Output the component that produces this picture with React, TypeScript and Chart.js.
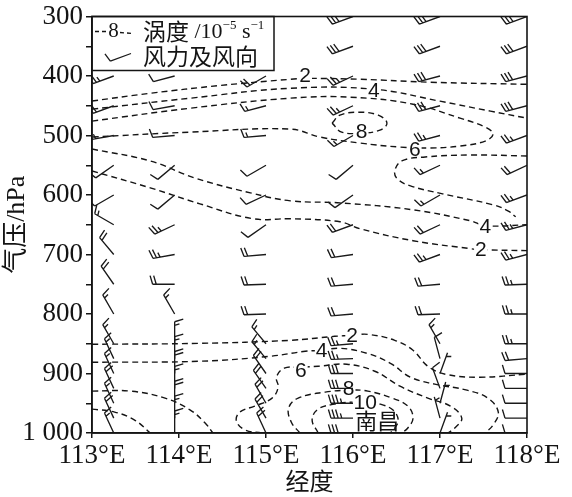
import React, { useEffect, useRef } from 'react';
import { Chart, registerables } from 'chart.js';

Chart.register(...registerables);

// ---------- axes ----------
const LON_TICKS = [113, 114, 115, 116, 117, 118];
const P_TICKS = [300, 400, 500, 600, 700, 800, 900, 1000];
const P_TICK_LABELS = ['300', '400', '500', '600', '700', '800', '900', '1 000'];

// ---------- wind barbs (direction wind comes from, deg; speed m/s) ----------
const LEVELS = [300, 350, 400, 450, 500, 550, 600, 650, 700, 750, 800, 850, 875, 900, 925, 950, 975, 1000];
const STATION_LONS = [113.25, 113.95, 115.0, 116.0, 117.0, 118.0];

const DIR_113 = [250, 250, 250, 250, 260, 235, 240, 300, 320, 325, 330, 330, 335, 335, 335, 335, 335, 335];
const SPD_113 = [10, 10, 10, 8, 6, 4, 4, 6, 8, 8, 6, 6, 6, 6, 8, 6, 8, 6];
const DIR_114 = [250, 250, 255, 260, 265, 230, 230, 245, 260, 270, 330, 0, 0, 0, 0, 0, 0, 0];
const SPD_114 = [10, 10, 4, 4, 4, 4, 4, 10, 10, 8, 6, 6, 6, 8, 6, 8, 6, 6];
const DIR_115 = [250, 250, 240, 255, 265, 240, 245, 235, 265, 268, 268, 320, 320, 325, 325, 330, 330, 335];
const SPD_115 = [10, 10, 8, 6, 6, 4, 4, 4, 8, 8, 8, 6, 6, 8, 8, 8, 8, 8];
const DIR_116 = [250, 250, 245, 245, 240, 230, 235, 250, 262, 265, 265, 265, 268, 270, 270, 270, 270, 270];
const SPD_116 = [12, 12, 10, 10, 6, 4, 4, 8, 8, 8, 8, 10, 10, 12, 12, 14, 14, 12];
const DIR_117 = [250, 250, 255, 255, 255, 245, 240, 245, 250, 265, 268, 330, 345, 20, 340, 15, 345, 20];
const SPD_117 = [12, 12, 12, 12, 10, 6, 6, 8, 10, 8, 8, 6, 4, 2, 4, 2, 2, 2];
const DIR_118 = [250, 250, 255, 255, 250, 245, 250, 255, 255, 268, 270, 270, 265, 270, 270, 270, 270, 270];
const SPD_118 = [12, 12, 12, 12, 10, 8, 10, 10, 10, 10, 10, 10, 8, 4, 4, 4, 4, 4];

const WIND_DIRS = [DIR_113, DIR_114, DIR_115, DIR_116, DIR_117, DIR_118];
const WIND_SPDS = [SPD_113, SPD_114, SPD_115, SPD_116, SPD_117, SPD_118];

// ---------- vorticity contours [lon, hPa] ----------
const C2_UPPER = [[113.0, 442], [113.67, 429], [114.47, 416], [115.28, 405.5], [115.45, 404], [116.08, 405.5], [116.89, 410.5], [118.0, 414]];
const C4_UPPER = [[113.0, 455.7], [114.13, 437.3], [115.28, 420.6], [116.24, 422.2], [117.0, 442.3], [117.58, 459.1], [118.0, 470.8]];
const C6_UPPER = [[113.0, 475.8], [114.13, 454.1], [115.28, 437.3], [115.97, 435.6], [116.69, 447.4], [117.23, 470.8], [117.52, 485.9], [117.61, 497.6], [117.52, 509.3], [117.23, 517.7], [116.89, 521.0], [116.54, 519.4], [116.08, 512.7], [115.62, 502.6], [115.28, 489.2], [114.13, 494.3], [113.0, 502.6]];
const C8_UPPER = [[115.76, 479.2], [115.85, 465.8], [116.06, 460.8], [116.29, 465.8], [116.39, 479.2], [116.31, 490.9], [116.10, 495.9], [115.87, 494.3], [115.76, 479.2]];
const C6_RIGHT = [[118.0, 534.4], [117.35, 532.8], [116.83, 536.1], [116.56, 542.8], [116.48, 559.6], [116.51, 573.0], [116.66, 584.7], [117.03, 598.1], [117.61, 616.5], [117.78, 626.5], [117.87, 636.6]];
const C4_MID = [[113.0, 522.7], [113.67, 542.8], [114.18, 571.3], [114.82, 596.4], [115.28, 609.8], [115.85, 613.2], [116.69, 624.9], [117.35, 643.3], [117.52, 651.7], [118.0, 650.0]];
const C2_MID = [[113.0, 559.6], [113.67, 588.0], [114.24, 614.8], [114.85, 639.9], [115.28, 639.9], [115.85, 645.0], [116.08, 656.7], [116.69, 676.8], [117.35, 690.2], [117.47, 691.9], [118.0, 693.5]];
const C2_LOW = [[113.0, 850.9], [114.24, 849.3], [115.28, 844.2], [115.79, 837.5], [115.99, 835.9], [116.17, 834.2], [116.48, 844.2], [116.69, 861.0], [116.86, 887.8], [117.06, 901.2], [117.46, 906.2], [118.0, 901.2]];
const C4_LOW = [[113.0, 881.1], [114.24, 879.4], [115.05, 871.0], [115.45, 862.7], [115.64, 861.0], [115.85, 857.6], [116.16, 866.0], [116.43, 882.8], [116.66, 906.2], [116.94, 917.9], [117.31, 928.0], [117.55, 941.4], [117.67, 964.8], [117.61, 986.6], [117.52, 1000]];
const C6_LOW = [[114.95, 1000], [114.76, 995.0], [114.66, 979.9], [114.70, 964.8], [114.87, 954.8], [115.07, 941.4], [115.14, 922.9], [115.12, 906.2], [115.21, 891.1], [115.40, 889.5], [115.60, 887.8], [115.93, 884.4], [116.25, 896.2], [116.54, 921.3], [116.86, 941.4], [117.12, 954.8], [117.25, 974.9], [117.17, 991.6], [117.09, 1000]];
const C8_LOW = [[115.39, 1000], [115.29, 981.6], [115.26, 958.1], [115.37, 941.4], [115.68, 931.3], [115.97, 928.0], [116.17, 929.6], [116.45, 941.4], [116.63, 954.8], [116.69, 974.9], [116.63, 991.6], [116.56, 1000]];
const C10_LOW = [[115.60, 1000], [115.53, 978.2], [115.60, 959.8], [115.79, 951.4], [115.99, 948.1], [116.13, 948.1], [116.31, 951.4], [116.46, 961.5], [116.52, 978.2], [116.48, 991.6], [116.43, 1000]];
const LA_LOW = [[113.0, 929.6], [113.44, 929.6], [113.84, 941.4], [114.13, 961.5], [114.30, 983.2], [114.39, 1000]];
const LB_LOW = [[113.0, 959.8], [113.26, 964.8], [113.49, 978.2], [113.67, 1000]];

const CONTOURS = [C2_UPPER, C4_UPPER, C6_UPPER, C8_UPPER, C6_RIGHT, C4_MID, C2_MID, C2_LOW, C4_LOW, C6_LOW, C8_LOW, C10_LOW, LA_LOW, LB_LOW];

// contour labels
const LABEL_TEXTS = ['2', '4', '8', '6', '4', '2', '2', '4', '6', '8', '10'];
const LABEL_LONS = [115.45, 116.24, 116.10, 116.71, 117.52, 117.47, 115.99, 115.64, 115.40, 115.95, 116.14];
const LABEL_PS = [398.8, 423.9, 492.6, 522.7, 651.7, 691.9, 835.9, 861.0, 894.5, 924.0, 948.0];

const CITY_NAME = '南昌';
const CITY_LON = 116.28;
const CITY_P = 979;

const LEGEND_ROW1 = ['涡度', ' /10', '−5', ' s', '−1'];
const LEGEND_ROW2 = '风力及风向';

const INK = '#141414';

function drawBarb(ctx: CanvasRenderingContext2D, x: number, y: number, dirDeg: number, speed: number) {
  const L = 22;
  const th = (dirDeg * Math.PI) / 180;
  const dx = Math.sin(th);
  const dy = -Math.cos(th);
  const tx = x + dx * L;
  const ty = y + dy * L;
  let px = -dy + dx * 0.3;
  let py = dx + dy * 0.3;
  const n = Math.hypot(px, py);
  px /= n; py /= n;
  ctx.beginPath();
  ctx.moveTo(x, y);
  ctx.lineTo(tx, ty);
  const full = Math.floor(speed / 4);
  const half = speed - full * 4 >= 2 ? 1 : 0;
  let pos = 0;
  for (let i = 0; i < full; i++) {
    const bx = tx - dx * pos;
    const by = ty - dy * pos;
    ctx.moveTo(bx, by);
    ctx.lineTo(bx + px * 9, by + py * 9);
    pos += 3.6;
  }
  if (half) {
    if (full === 0) pos += 3.6;
    const bx = tx - dx * pos;
    const by = ty - dy * pos;
    ctx.moveTo(bx, by);
    ctx.lineTo(bx + px * 5, by + py * 5);
  }
  ctx.stroke();
}

const overlayPlugin = {
  id: 'overlay',
  afterDatasetsDraw(chart: any) {
    const { ctx, chartArea: a, scales } = chart;
    const xs = scales.x;
    const ys = scales.y;
    ctx.save();
    ctx.beginPath();
    ctx.rect(a.left, a.top, a.right - a.left, a.bottom - a.top);
    ctx.clip();
    // contour labels: white gaps first, then the numbers
    ctx.font = '21px "Liberation Sans"';
    ctx.textAlign = 'center';
    ctx.textBaseline = 'middle';
    const pos = LABEL_TEXTS.map((t, i) => ({
      t,
      px: xs.getPixelForValue(LABEL_LONS[i]),
      py: ys.getPixelForValue(LABEL_PS[i]),
      w: ctx.measureText(t).width,
    }));
    ctx.fillStyle = '#fff';
    pos.forEach((l) => ctx.fillRect(l.px - l.w / 2 - 1, l.py - 7, l.w + 2, 14));
    ctx.fillStyle = INK;
    pos.forEach((l) => ctx.fillText(l.t, l.px, l.py + 1));
    ctx.font = '22px "Noto Sans CJK SC"';
    ctx.fillStyle = INK;
    ctx.fillText(CITY_NAME, xs.getPixelForValue(CITY_LON), ys.getPixelForValue(CITY_P));
    // wind barbs
    ctx.strokeStyle = '#1a1a1a';
    ctx.lineWidth = 1.35;
    ctx.setLineDash([]);
    STATION_LONS.forEach((lon, c) => {
      LEVELS.forEach((p, i) => {
        drawBarb(ctx, xs.getPixelForValue(lon), ys.getPixelForValue(p), WIND_DIRS[c][i], WIND_SPDS[c][i]);
      });
    });
    ctx.restore();
  },
  afterDraw(chart: any) {
    const { ctx, chartArea: a } = chart;
    ctx.save();
    // legend box
    const lx = a.left;
    const ly = a.top;
    ctx.fillStyle = '#fff';
    ctx.fillRect(lx, ly, 182, 54);
    ctx.strokeStyle = INK;
    ctx.lineWidth = 1.5;
    ctx.strokeRect(lx, ly, 182, 54);
    const r1 = ly + 15;
    ctx.lineWidth = 1.3;
    ctx.setLineDash([4, 3]);
    ctx.beginPath();
    ctx.moveTo(lx + 3, r1);
    ctx.lineTo(lx + 15, r1);
    ctx.moveTo(lx + 28, r1 + 1);
    ctx.lineTo(lx + 42, r1 + 2);
    ctx.stroke();
    ctx.setLineDash([]);
    ctx.fillStyle = INK;
    ctx.textBaseline = 'middle';
    ctx.textAlign = 'center';
    ctx.font = '21px "Liberation Serif"';
    ctx.fillText('8', lx + 21.5, r1);
    ctx.textAlign = 'left';
    let cx = lx + 51;
    ctx.font = '23px "Noto Sans CJK SC"';
    ctx.fillText(LEGEND_ROW1[0], cx, r1);
    cx += ctx.measureText(LEGEND_ROW1[0]).width;
    ctx.font = '22px "Liberation Serif"';
    ctx.fillText(LEGEND_ROW1[1], cx, r1 + 1);
    cx += ctx.measureText(LEGEND_ROW1[1]).width;
    ctx.font = '13px "Liberation Serif"';
    ctx.fillText(LEGEND_ROW1[2], cx, r1 - 6);
    cx += ctx.measureText(LEGEND_ROW1[2]).width;
    ctx.font = '22px "Liberation Serif"';
    ctx.fillText(LEGEND_ROW1[3], cx, r1 + 1);
    cx += ctx.measureText(LEGEND_ROW1[3]).width;
    ctx.font = '13px "Liberation Serif"';
    ctx.fillText(LEGEND_ROW1[4], cx, r1 - 6);
    const r2 = ly + 40;
    ctx.strokeStyle = '#1a1a1a';
    ctx.lineWidth = 1.3;
    drawBarb(ctx, lx + 39, r2 - 3, 250, 4);
    ctx.font = '23px "Noto Sans CJK SC"';
    ctx.fillStyle = INK;
    ctx.fillText(LEGEND_ROW2, lx + 51, r2);
    // frame
    ctx.strokeStyle = INK;
    ctx.lineWidth = 1.6;
    ctx.strokeRect(a.left, a.top, a.right - a.left, a.bottom - a.top);
    ctx.restore();
  },
};

export default function App() {
  const ref = useRef<HTMLCanvasElement | null>(null);
  useEffect(() => {
    if (!ref.current) return;
    const datasets = CONTOURS.map((c) => ({
      data: c.map(([lon, p]) => ({ x: lon, y: p })),
      showLine: true,
      borderColor: INK,
      borderWidth: 1.4,
      borderDash: [6, 4],
      pointRadius: 0,
      tension: 0.4,
      fill: false,
    }));
    const chart = new Chart(ref.current, {
      type: 'scatter',
      data: { datasets },
      options: {
        animation: false,
        responsive: false,
        devicePixelRatio: 1,
        events: [],
        layout: { padding: { left: 0, right: 45, top: 15, bottom: 0 } },
        plugins: { legend: { display: false }, tooltip: { enabled: false } },
        scales: {
          x: {
            type: 'linear',
            position: 'bottom',
            min: 113,
            max: 118,
            afterFit: (s: any) => { s.height = 64; },
            afterBuildTicks: (s: any) => { s.ticks = LON_TICKS.map((v) => ({ value: v })); },
            ticks: {
              callback: (v: any) => `${v}°E`,
              font: { family: '"Liberation Serif"', size: 27, lineHeight: 1 },
              color: INK,
              padding: 4,
              maxRotation: 0,
              autoSkip: false,
            },
            grid: { display: true, drawOnChartArea: false, drawTicks: true, tickLength: 5, color: INK, lineWidth: 1.5 },
            border: { display: true, color: INK, width: 1.5 },
            title: {
              display: true,
              text: '经度',
              font: { family: '"Noto Sans CJK SC"', size: 24, lineHeight: 1.2 },
              color: INK,
              padding: { top: 0, bottom: 2 },
            },
          },
          y: {
            type: 'linear',
            min: 300,
            max: 1000,
            reverse: true,
            afterFit: (s: any) => { s.width = 92; },
            ticks: {
              stepSize: 50,
              callback: (v: any) => {
                const i = P_TICKS.indexOf(Number(v));
                return i >= 0 ? P_TICK_LABELS[i] : '';
              },
              font: { family: '"Liberation Serif"', size: 27, lineHeight: 1 },
              color: INK,
              padding: 3,
              autoSkip: false,
            },
            grid: { display: true, drawOnChartArea: false, drawTicks: true, tickLength: 6, color: INK, lineWidth: 1.5 },
            border: { display: true, color: INK, width: 1.5 },
            title: {
              display: true,
              text: '气压/hPa',
              font: { family: '"Liberation Serif", "Noto Sans CJK SC"', size: 26, lineHeight: 1.2 },
              color: INK,
              padding: { top: 2, bottom: 0 },
            },
          },
        },
      },
      plugins: [overlayPlugin],
    } as any);
    return () => chart.destroy();
  }, []);
  return (
    <div style={{ position: 'absolute', left: 0, top: 0, width: 572, height: 497 }}>
      <canvas ref={ref} width={572} height={497} style={{ display: 'block', width: 572, height: 497 }} />
    </div>
  );
}
